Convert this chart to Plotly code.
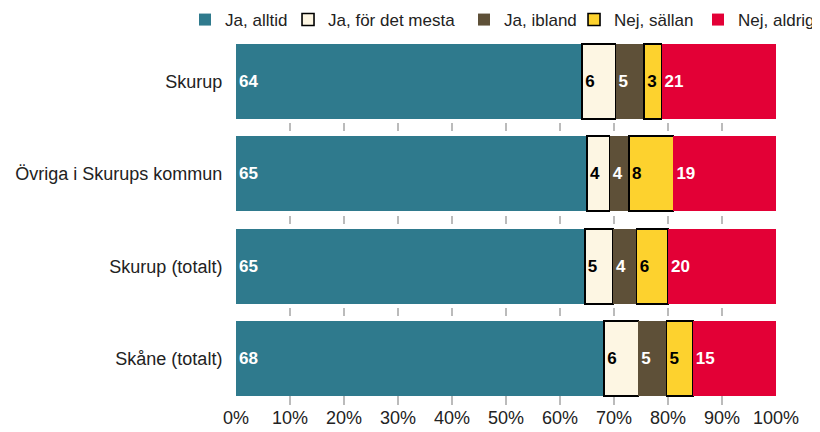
import plotly.graph_objects as go

categories = ["Skurup", "Övriga i Skurups kommun", "Skurup (totalt)", "Skåne (totalt)"]
series_names = ["Ja, alltid", "Ja, för det mesta", "Ja, ibland", "Nej, sällan", "Nej, aldrig"]

ja_alltid = [64.1, 65.0, 64.6, 68.2]
ja_mesta = [6.2, 4.2, 5.2, 6.3]
ja_ibland = [5.3, 3.6, 4.4, 5.2]
nej_sallan = [3.2, 8.2, 5.8, 4.9]
nej_aldrig = [21.2, 19.0, 20.0, 15.4]

labels_alltid = ["64", "65", "65", "68"]
labels_mesta = ["6", "4", "5", "6"]
labels_ibland = ["5", "4", "4", "5"]
labels_sallan = ["3", "8", "6", "5"]
labels_aldrig = ["21", "19", "20", "15"]

x_ticks = [0, 10, 20, 30, 40, 50, 60, 70, 80, 90, 100]
x_tick_labels = [f"{t}%" for t in x_ticks]

colors = ["#2F7A8D", "#FDF6E3", "#5E5038", "#FDD22E", "#E30036"]
text_colors = ["white", "black", "white", "black", "white"]
outline = [None, "black", None, "black", None]
legend_widths = [58, 131, 65, 79, None]

values = [ja_alltid, ja_mesta, ja_ibland, nej_sallan, nej_aldrig]
labels = [labels_alltid, labels_mesta, labels_ibland, labels_sallan, labels_aldrig]

FONT = "Liberation Sans, Arial, sans-serif"

fig = go.Figure()
for name, vals, txt, col, tcol, oc, lw in zip(series_names, values, labels, colors,
                                              text_colors, outline, legend_widths):
    kw = {}
    if lw is not None:
        kw["legendwidth"] = lw
    fig.add_trace(go.Bar(
        name=name,
        y=categories,
        x=vals,
        orientation="h",
        text=txt,
        texttemplate="%{text}",
        textposition="inside",
        insidetextanchor="start",
        textangle=0,
        textfont=dict(family=FONT, size=17, color=tcol, weight="bold"),
        marker=dict(color=col,
                    line=dict(color=oc if oc else col, width=1.6 if oc else 0)),
        hoverinfo="skip",
        **kw,
    ))

# page body has an 8px margin, so the figure is 8px smaller and margins shifted
fig.update_layout(
    barmode="stack",
    bargap=0.19,
    width=812,
    height=424,
    margin=dict(l=228, r=44, t=27, b=27, autoexpand=False),
    plot_bgcolor="white",
    paper_bgcolor="white",
    font=dict(family=FONT, size=18, color="#222222"),
    uniformtext=dict(minsize=17, mode="show"),
    legend=dict(
        orientation="h",
        x=-0.0944, xanchor="left",
        y=1.0405, yanchor="middle",
        font=dict(family=FONT, size=17, color="#222222"),
        traceorder="normal",
        itemclick=False,
        bgcolor="rgba(0,0,0,0)",
    ),
    xaxis=dict(
        range=[0, 100],
        tickvals=x_ticks,
        ticktext=x_tick_labels,
        showgrid=True,
        gridcolor="#BBBBBB",
        gridwidth=1.5,
        griddash="0px,88px,8px,84.5px,8px,84.5px,8px,80px,8px",
        zeroline=False,
        showline=False,
        ticks="",
        tickfont=dict(family=FONT, size=18, color="#222222"),
        automargin=False,
        fixedrange=True,
    ),
    yaxis=dict(
        autorange="reversed",
        showgrid=False,
        zeroline=False,
        showline=False,
        ticks="outside",
        ticklen=9,
        tickcolor="rgba(0,0,0,0)",
        tickfont=dict(family=FONT, size=18, color="#222222"),
        automargin=False,
        fixedrange=True,
    ),
)

fig.write_html("out.html")
